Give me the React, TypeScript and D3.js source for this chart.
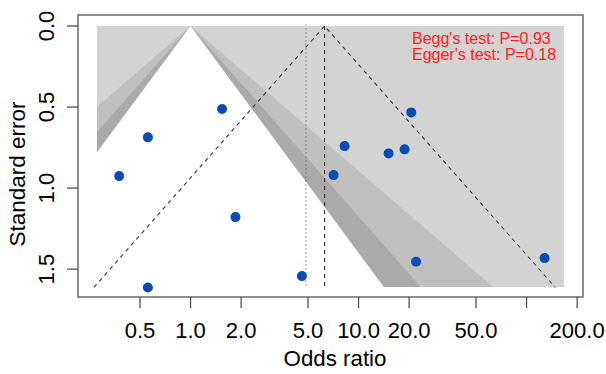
import React, { useEffect } from 'react';
import * as d3 from 'd3';

// Study estimates (odds ratio, standard error)
const oddsRatios = [1.54, 0.557, 0.376, 1.85, 0.557, 4.6, 20.6, 8.26, 15.1, 18.8, 7.1, 22.0, 128];
const standardErrors = [0.512, 0.687, 0.926, 1.179, 1.613, 1.543, 0.533, 0.741, 0.786, 0.761, 0.92, 1.455, 1.432];

// Pooled estimates (vertical reference lines)
const pooledOR = 6.28;
const adjustedOR = 4.86;

// Contour levels (z values for 99%, 95%, 90%) and their fills
const contourZ = [2.576, 1.96, 1.645];
const contourFills = ['#bfbfbf', '#aaaaaa', '#ffffff'];

// Axis ticks
const xTicks = [0.5, 1, 2, 5, 10, 20, 50, 100, 200];
const xTickLabels = ['0.5', '1.0', '2.0', '5.0', '10.0', '20.0', '50.0', '', '200.0'];
const yTicks = [0, 0.5, 1, 1.5];
const yTickLabels = ['0.0', '0.5', '1.0', '1.5'];

const testLabels = ["Begg's test: P=0.93", "Egger's test: P=0.18"];

const W = 606;
const H = 374;
const box = { left: 78, right: 583, top: 15, bottom: 297 };
const font = '"Liberation Sans", Arial, Helvetica, sans-serif';

const App = () => {
  useEffect(() => {
    document.body.style.margin = '0';
  }, []);

  const x = d3.scaleLog().domain([0.2138, 216.8]).range([box.left, box.right]);
  const y = d3.scaleLinear().domain([-0.068, 1.672]).range([box.top, box.bottom]);

  const seMax = d3.max(standardErrors);
  // shaded area limits (rounded to whole pixels so the edges stay crisp)
  const shadeX = [0.277, 168];
  const sx0 = Math.round(x(shadeX[0]));
  const sx1 = Math.round(x(shadeX[1]));
  const sy0 = Math.round(y(0));
  const sy1 = Math.round(y(seMax));

  const line = d3.line<[number, number]>()
    .x(d => x(d[0]))
    .y(d => y(d[1]));

  const contourPath = (z: number) => line([
    [Math.exp(-z * seMax), seMax],
    [1, 0],
    [Math.exp(z * seMax), seMax],
    [Math.exp(z * seMax), seMax + 1],
    [Math.exp(-z * seMax), seMax + 1],
  ]) + 'Z';

  const lnPooled = Math.log(pooledOR);
  const funnel = line([
    [Math.exp(lnPooled - 1.96 * seMax), seMax],
    [pooledOR, 0],
    [Math.exp(lnPooled + 1.96 * seMax), seMax],
  ]);

  return (
    <svg width={W} height={H} style={{ position: 'absolute', left: 0, top: 0, background: '#fff' }}>
      <defs>
        <clipPath id="shade-clip">
          <rect x={sx0} y={sy0} width={sx1 - sx0} height={sy1 - sy0} />
        </clipPath>
      </defs>

      {/* Contour shading */}
      <rect x={sx0} y={sy0} width={sx1 - sx0} height={sy1 - sy0} fill="#d3d3d3" shapeRendering="crispEdges" />
      <g clipPath="url(#shade-clip)">
        {contourZ.map((z, i) => (
          <path key={i} d={contourPath(z)} fill={contourFills[i]} />
        ))}
      </g>

      {/* Pseudo confidence funnel and reference lines */}
      <path d={funnel} fill="none" stroke="#333" strokeWidth={1.1} strokeDasharray="4,4" />
      <line x1={x(pooledOR)} x2={x(pooledOR)} y1={y(0)} y2={y(seMax)} stroke="#333" strokeWidth={1.1} strokeDasharray="4,4" />
      <line x1={x(adjustedOR)} x2={x(adjustedOR)} y1={y(-0.01)} y2={y(seMax)} stroke="#555" strokeWidth={1.1} strokeDasharray="1,3" />

      {/* Studies */}
      {oddsRatios.map((or, i) => (
        <circle key={i} cx={x(or)} cy={y(standardErrors[i])} r={5} fill="#0a4cb4" />
      ))}

      {/* Test results */}
      {testLabels.map((t, i) => (
        <text key={i} x={412} y={44 + i * 16} fontFamily={font} fontSize={16} fill="#ff2020">{t}</text>
      ))}

      {/* Plot box */}
      <rect x={box.left} y={box.top} width={box.right - box.left} height={box.bottom - box.top} fill="none" stroke="#444" strokeWidth={1.2} />

      {/* X axis */}
      {xTicks.map((t, i) => (
        <g key={i}>
          <line x1={x(t)} x2={x(t)} y1={box.bottom} y2={box.bottom + 11} stroke="#444" strokeWidth={1.2} />
          <text x={x(t)} y={338} textAnchor="middle" fontFamily={font} fontSize={22} fill="#000">{xTickLabels[i]}</text>
        </g>
      ))}
      <text x={335} y={366} textAnchor="middle" fontFamily={font} fontSize={22.3} fill="#000">Odds ratio</text>

      {/* Y axis */}
      {yTicks.map((t, i) => (
        <g key={i}>
          <line x1={box.left - 11} x2={box.left} y1={y(t)} y2={y(t)} stroke="#444" strokeWidth={1.2} />
          <text transform={`translate(53.5,${y(t)}) rotate(-90)`} textAnchor="middle" fontFamily={font} fontSize={22} fill="#000">{yTickLabels[i]}</text>
        </g>
      ))}
      <text transform={`translate(25,174) rotate(-90)`} textAnchor="middle" fontFamily={font} fontSize={22.5} fill="#000">Standard error</text>
    </svg>
  );
};

export default App;
